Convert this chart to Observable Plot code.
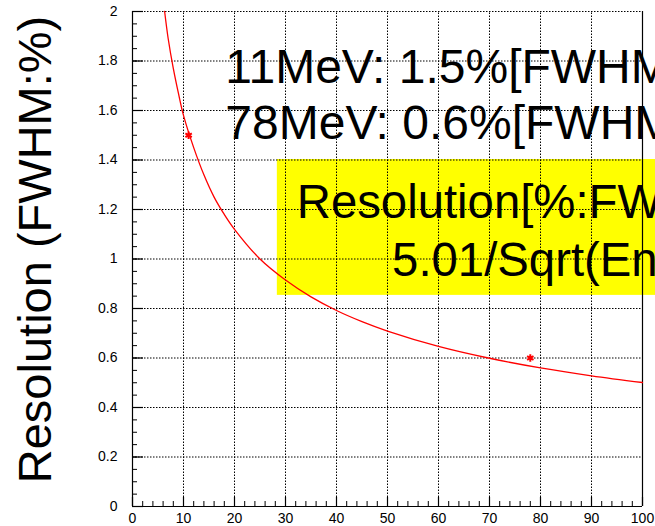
<!DOCTYPE html>
<html>
<head>
<meta charset="utf-8">
<script src="https://cdn.jsdelivr.net/npm/d3@7"></script>
<script src="https://cdn.jsdelivr.net/npm/@observablehq/plot@0.6"></script>
<style>
  html, body { margin: 0; padding: 0; background: #fff; overflow: hidden; }
  #chart { width: 655px; height: 526px; overflow: hidden; }
</style>
</head>
<body>
<div id="chart"></div>
<script>
// Measured points (energy in MeV, resolution in % FWHM)
const pointEnergy = [11, 78];
const pointResolution = [1.5, 0.6];

// Fitted curve
const fitEnergy = [6.3, 7, 8, 9, 10, 12, 14, 16, 18, 20, 25, 30, 35, 40, 45, 50, 60, 70, 80, 90, 100];
const fitResolution = [2.0, 1.89, 1.77, 1.67, 1.58, 1.45, 1.34, 1.25, 1.18, 1.12, 1.0, 0.915, 0.847, 0.792, 0.747, 0.709, 0.647, 0.599, 0.56, 0.528, 0.501];

// Axis ticks
const xTickValues = [0, 10, 20, 30, 40, 50, 60, 70, 80, 90, 100];
const xTickLabels = ["0", "10", "20", "30", "40", "50", "60", "70", "80", "90", "100"];
const xMinorTicks = d3.range(0, 100.01, 2);
const yTickValues = [0, 0.2, 0.4, 0.6, 0.8, 1, 1.2, 1.4, 1.6, 1.8, 2];
const yTickLabels = ["0", "0.2", "0.4", "0.6", "0.8", "1", "1.2", "1.4", "1.6", "1.8", "2"];
const yMinorTicks = d3.range(0, 2.001, 0.05);

// Texts
const yTitle = "Resolution (FWHM:%)";
const noteLines = ["11MeV: 1.5%[FWHM]", "78MeV: 0.6%[FWHM]"];
const boxLines = ["Resolution[%:FWHM]", "5.01/Sqrt(Energy)"];

const points = pointEnergy.map((e, i) => ({e, r: pointResolution[i]}));
const fit = fitEnergy.map((e, i) => ({e, r: fitResolution[i]}));
const xTicks = xTickValues.map((v, i) => ({v, label: xTickLabels[i]}));
const yTicks = yTickValues.map((v, i) => ({v, label: yTickLabels[i]}));

const W = 655, H = 526;
const mL = 132, mR = 13, mT = 11, mB = 20;
const pxX = 100 / (W - mL - mR);   // data units per pixel
const pxY = 2 / (H - mT - mB);

const font = "Liberation Sans, Arial, Helvetica, sans-serif";

const chart = Plot.plot({
  width: W,
  height: H,
  marginLeft: mL,
  marginRight: mR,
  marginTop: mT,
  marginBottom: mB,
  style: {background: "white", overflow: "hidden", fontFamily: font},
  x: {domain: [0, 100], axis: null},
  y: {domain: [0, 2], axis: null},
  marks: [
    // yellow fit box
    Plot.rect([{x1: 28.4, x2: 115, y1: 0.853, y2: 1.402}], {x1: "x1", x2: "x2", y1: "y1", y2: "y2", fill: "#ffff00"}),
    // dotted grid
    Plot.ruleX(xTickValues.filter(v => v > 0 && v < 100), {y1: 0, y2: 2, stroke: "black", strokeWidth: 1, strokeDasharray: "1.5,1.5"}),
    Plot.ruleY(yTickValues.filter(v => v > 0), {x1: 0, x2: 100, stroke: "black", strokeWidth: 1, strokeDasharray: "1.5,1.5"}),
    // frame
    Plot.ruleX([0, 100], {y1: 0, y2: 2, stroke: "black", strokeWidth: 1.2}),
    Plot.ruleY([0], {x1: 0, x2: 100, stroke: "black", strokeWidth: 1.2}),
    // ticks (inside)
    Plot.ruleX(xMinorTicks, {y1: 0, y2: 5 * pxY, stroke: "black", strokeWidth: 1}),
    Plot.ruleX(xTickValues, {y1: 0, y2: 9 * pxY, stroke: "black", strokeWidth: 1.2}),
    Plot.ruleY(yMinorTicks, {x1: 0, x2: 5 * pxX, stroke: "black", strokeWidth: 1}),
    Plot.ruleY(yTickValues, {x1: 0, x2: 11 * pxX, stroke: "black", strokeWidth: 1.2}),
    // fit curve
    Plot.line(fit, {x: "e", y: "r", stroke: "red", strokeWidth: 1.3, curve: "catmull-rom"}),
    // points
    Plot.dot(points, {x: "e", y: "r", symbol: "asterisk", r: 3.5, stroke: "red", strokeWidth: 2}),
    // tick labels
    Plot.text(xTicks, {x: "v", y: 0, text: "label", dy: 12, fontSize: 14, fill: "black", fontFamily: font}),
    Plot.text(yTicks, {x: 0, y: "v", text: "label", dx: -15, textAnchor: "end", fontSize: 14, fill: "black", fontFamily: font}),
    // y title
    Plot.text([yTitle], {frameAnchor: "left", text: d => d, rotate: -90, textAnchor: "middle", lineAnchor: "bottom", dx: -82, dy: -9.5, fontSize: 47, fill: "black", fontFamily: font}),
    // notes
    Plot.text([noteLines[0]], {x: 18.2, y: 1.71, text: d => d, textAnchor: "start", lineAnchor: "bottom", fontSize: 48, fill: "black", fontFamily: font}),
    Plot.text([noteLines[1]], {x: 18.2, y: 1.485, text: d => d, textAnchor: "start", lineAnchor: "bottom", fontSize: 48, fill: "black", fontFamily: font}),
    Plot.text([boxLines[0]], {x: 32.2, y: 1.1665, text: d => d, textAnchor: "start", lineAnchor: "bottom", fontSize: 47.3, fill: "black", fontFamily: font}),
    Plot.text([boxLines[1]], {x: 50.9, y: 0.933, text: d => d, textAnchor: "start", lineAnchor: "bottom", fontSize: 47.3, fill: "black", fontFamily: font})
  ]
});
document.getElementById("chart").appendChild(chart);
</script>
</body>
</html>
